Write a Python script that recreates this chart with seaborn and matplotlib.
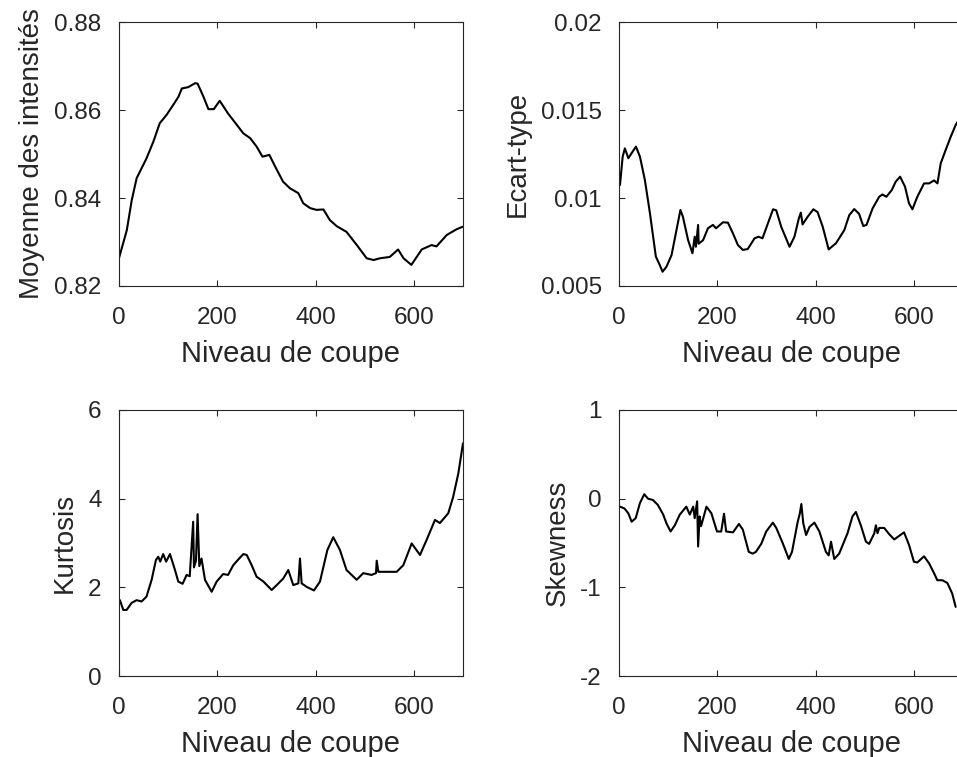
import matplotlib
matplotlib.use("Agg")
import matplotlib.pyplot as plt
import seaborn as sns
import pandas as pd

# Moyenne des intensités
mean_x = [0, 16, 26, 36, 56, 70, 83, 97, 110, 121, 128, 141, 155, 160, 172, 182, 193, 205,
          222, 240, 253, 267, 280, 292, 306, 318, 334, 348, 365, 375, 389, 402, 416, 429,
          443, 463, 484, 504, 518, 531, 551, 568, 579, 595, 616, 636, 646, 667, 687, 700]
mean_y = [0.8263, 0.8327, 0.8395, 0.8445, 0.849, 0.8528, 0.857, 0.8589, 0.8611, 0.863,
          0.8649, 0.8652, 0.8661, 0.866, 0.863, 0.8602, 0.8602, 0.8621, 0.8592, 0.8566,
          0.8547, 0.8536, 0.8517, 0.8494, 0.8498, 0.8471, 0.8437, 0.8422, 0.8411, 0.8388,
          0.8377, 0.8373, 0.8374, 0.835, 0.8336, 0.8323, 0.8293, 0.8263, 0.8259, 0.8263,
          0.8266, 0.8283, 0.8263, 0.8248, 0.8283, 0.8293, 0.829, 0.8316, 0.8329, 0.8335]

# Ecart-type
std_x = [2, 7.5, 12, 19, 25.5, 34.5, 42.6, 52.7, 63, 75, 83, 88.6, 96.7, 107, 117, 125, 130,
         140.6, 149.5, 154, 156.5, 161, 162, 171, 181, 191, 197.5, 211.5, 221.6, 231.7,
         241.9, 252, 262, 275.8, 284, 292, 303, 313.5, 320, 330, 347, 357, 366, 370, 373.5,
         384, 395.5, 404, 414.5, 426.6, 441.5, 458.5, 468.6, 478.7, 488.5, 497, 503.6, 516,
         529.4, 536, 544, 555, 563, 572, 582, 590, 597, 607, 620.7, 631, 641, 648, 654.6,
         664.7, 675, 685, 700]
std_y = [0.01074, 0.01235, 0.01282, 0.01226, 0.01254, 0.01292, 0.01235, 0.01102, 0.00913,
         0.00667, 0.00619, 0.00581, 0.0061, 0.00676, 0.00818, 0.00932, 0.00894, 0.00761,
         0.00686, 0.0078, 0.00723, 0.00847, 0.0074, 0.0076, 0.00828, 0.00847, 0.00828,
         0.00862, 0.0086, 0.008, 0.00733, 0.00705, 0.0071, 0.00771, 0.0078, 0.00771,
         0.00856, 0.00936, 0.0093, 0.00837, 0.00723, 0.0078, 0.00885, 0.00917, 0.0085,
         0.00894, 0.00936, 0.0092, 0.00837, 0.00708, 0.00743, 0.00818, 0.00903, 0.00937,
         0.0091, 0.00841, 0.00847, 0.00941, 0.01007, 0.0102, 0.01007, 0.01045, 0.01093,
         0.01121, 0.01064, 0.0097, 0.00936, 0.01007, 0.01083, 0.01083, 0.011, 0.01083,
         0.01197, 0.01273, 0.01348, 0.01415, 0.0148]

# Kurtosis
kurt_x = [2, 8.8, 15.6, 25.8, 36, 46, 56, 66.5, 75.3, 80, 84, 90, 96, 103.8, 114, 120.7,
          129.5, 137.7, 144, 151, 152.6, 156.7, 160, 163.5, 168, 175, 188.6, 198.8, 212,
          222, 232.6, 243, 253, 260, 270, 280, 294, 310.7, 321, 334.4, 344.5, 354.7, 365,
          368.3, 371.7, 382, 396.8, 409, 424, 436, 449.7, 463, 483.7, 497, 514, 523, 524.4,
          527.8, 545, 565, 578.6, 595.6, 612.5, 626, 643, 653, 670, 680, 690.5, 700]
kurt_y = [1.71, 1.49, 1.49, 1.65, 1.71, 1.68, 1.79, 2.17, 2.62, 2.69, 2.58, 2.75, 2.58,
          2.75, 2.39, 2.13, 2.08, 2.28, 2.25, 3.48, 2.45, 2.6, 3.65, 2.48, 2.65, 2.17, 1.9,
          2.13, 2.3, 2.28, 2.5, 2.63, 2.75, 2.73, 2.5, 2.24, 2.13, 1.94, 2.05, 2.2, 2.39,
          2.05, 2.09, 2.65, 2.09, 2.01, 1.93, 2.13, 2.84, 3.13, 2.84, 2.39, 2.17, 2.32, 2.28,
          2.32, 2.6, 2.35, 2.35, 2.35, 2.5, 2.99, 2.73, 3.07, 3.52, 3.45, 3.67, 4.04, 4.57,
          5.25]

# Skewness
skew_x = [2, 11, 19, 25.7, 34, 42.6, 51.4, 59, 69, 79, 90, 96.7, 105, 113.6, 123.7, 137,
          144, 151, 154, 159, 161, 164, 167, 178, 188, 199.4, 208, 213.7, 218, 232, 244, 252,
          264, 272, 278.6, 289.4, 299.6, 313, 320, 333, 345.5, 352, 363.7, 368, 371, 375,
          380.7, 387.5, 397.6, 407.7, 421, 426.6, 431.4, 438, 448, 465, 475, 482, 492, 502.4,
          509, 519.5, 522.7, 526, 529.5, 539.6, 549.7, 560, 570, 580, 590, 600, 607, 620.7,
          631, 641, 647.7, 658, 668, 678, 685]
skew_y = [-0.09, -0.11, -0.165, -0.26, -0.22, -0.05, 0.05, 0.0, -0.015, -0.07, -0.18, -0.28,
          -0.37, -0.3, -0.18, -0.09, -0.18, -0.09, -0.22, -0.03, -0.54, -0.2, -0.31, -0.09,
          -0.165, -0.37, -0.37, -0.17, -0.37, -0.38, -0.285, -0.35, -0.6, -0.62, -0.6, -0.51,
          -0.37, -0.27, -0.33, -0.5, -0.68, -0.6, -0.26, -0.165, -0.06, -0.28, -0.41, -0.32,
          -0.27, -0.37, -0.6, -0.64, -0.485, -0.68, -0.62, -0.39, -0.2, -0.15, -0.3, -0.485,
          -0.51, -0.39, -0.3, -0.39, -0.33, -0.33, -0.4, -0.46, -0.42, -0.38, -0.52, -0.71,
          -0.72, -0.65, -0.73, -0.84, -0.92, -0.92, -0.95, -1.07, -1.22]

xlabel = "Niveau de coupe"
panels = [
    (mean_x, mean_y, "Moyenne des intensités", (0.82, 0.88), [0.82, 0.84, 0.86, 0.88],
     ["0.82", "0.84", "0.86", "0.88"]),
    (std_x, std_y, "Ecart-type", (0.005, 0.02), [0.005, 0.01, 0.015, 0.02],
     ["0.005", "0.01", "0.015", "0.02"]),
    (kurt_x, kurt_y, "Kurtosis", (0, 6), [0, 2, 4, 6], ["0", "2", "4", "6"]),
    (skew_x, skew_y, "Skewness", (-2, 1), [-2, -1, 0, 1], ["-2", "-1", "0", "1"]),
]

sns.set_style("ticks")
plt.rcParams["font.family"] = ["Liberation Sans", "DejaVu Sans"]

fig = plt.figure(figsize=(9.57, 7.57), dpi=100)
positions = [
    [0.1243, 0.6222, 0.3595, 0.3487],
    [0.6468, 0.6222, 0.3595, 0.3487],
    [0.1243, 0.1070, 0.3595, 0.3514],
    [0.6468, 0.1070, 0.3595, 0.3514],
]

for pos, (x, y, ylab, ylim, yt, ytl) in zip(positions, panels):
    ax = fig.add_axes(pos)
    df = pd.DataFrame({"x": x, "y": y})
    sns.lineplot(data=df, x="x", y="y", ax=ax, color="black", linewidth=1.5,
                 sort=False, estimator=None)
    ax.set_xlim(0, 700)
    ax.set_ylim(*ylim)
    ax.set_xticks([0, 200, 400, 600])
    ax.set_xticklabels(["0", "200", "400", "600"])
    ax.set_yticks(yt)
    ax.set_yticklabels(ytl)
    ax.set_xlabel(xlabel, fontsize=21, color="#262626", labelpad=8)
    ax.set_ylabel(ylab, fontsize=20, color="#262626", labelpad=7)
    ax.tick_params(direction="in", length=4, width=0.8, labelsize=17.5,
                   colors="#262626", top=True, right=True)
    ax.tick_params(axis="x", pad=15)
    ax.tick_params(axis="y", pad=12.5)
    for s in ax.spines.values():
        s.set_visible(True)
        s.set_color("#262626")
        s.set_linewidth(0.8)

fig.savefig("out.png", dpi=100)
